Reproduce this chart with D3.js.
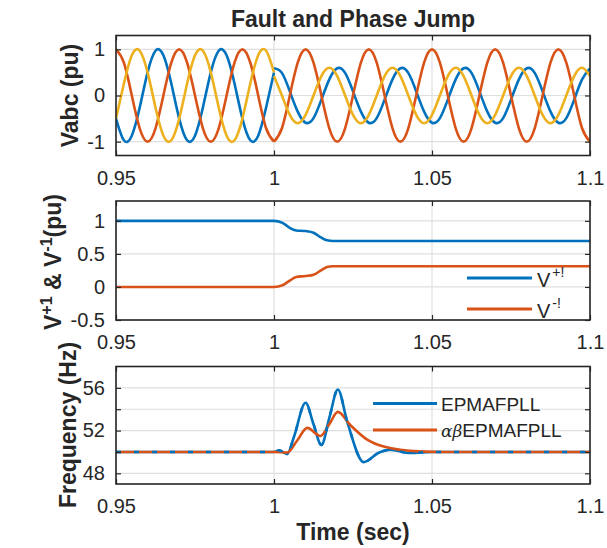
<!DOCTYPE html>
<html>
<head>
<meta charset="utf-8">
<script src="https://cdn.jsdelivr.net/npm/d3@7"></script>
<style>
body { margin: 0; background: #fff; }
text { font-family: Arial, "Liberation Sans", Helvetica, sans-serif; fill: #262626; }
</style>
</head>
<body>
<div id="chart"></div>
<script>
// time samples (sec)
var tPre = [0.95,0.9525,0.955,0.9575,0.96,0.9625,0.965,0.9675,0.97,0.9725,0.975,0.9775,0.98,0.9825,0.985,0.9875,0.99,0.9925,0.995,0.9975,1.0];
var tPost = [1.0,1.0025,1.005,1.0075,1.01,1.0125,1.015,1.0175,1.02,1.0225,1.025,1.0275,1.03,1.0325,1.035,1.0375,1.04,1.0425,1.045,1.0475,
  1.05,1.0525,1.055,1.0575,1.06,1.0625,1.065,1.0675,1.07,1.0725,1.075,1.0775,1.08,1.0825,1.085,1.0875,1.09,1.0925,1.095,1.0975,1.1];

// phase voltages before the fault (pu)
var vaPre = [-0.5,-0.97,-0.87,-0.26,0.5,0.97,0.87,0.26,-0.5,-0.97,-0.87,-0.26,0.5,0.97,0.87,0.26,-0.5,-0.97,-0.87,-0.26,0.5];
var vbPre = [1,0.71,0,-0.71,-1,-0.71,0,0.71,1,0.71,0,-0.71,-1,-0.71,0,0.71,1,0.71,0,-0.71,-1];
var vcPre = [-0.5,0.26,0.87,0.97,0.5,-0.26,-0.87,-0.97,-0.5,0.26,0.87,0.97,0.5,-0.26,-0.87,-0.97,-0.5,0.26,0.87,0.97,0.5];

// phase voltages after the fault (pu)
var vaPost = [0.59,0.49,0.09,-0.35,-0.59,-0.49,-0.09,0.35,0.59,0.49,0.09,-0.35,-0.59,-0.49,-0.09,0.35,0.59,0.49,0.09,-0.35,
  -0.59,-0.49,-0.09,0.35,0.59,0.49,0.09,-0.35,-0.59,-0.49,-0.09,0.35,0.59,0.49,0.09,-0.35,-0.59,-0.49,-0.09,0.35,0.59];
var vbPost = [-1,-0.71,0,0.71,1,0.71,0,-0.71,-1,-0.71,0,0.71,1,0.71,0,-0.71,-1,-0.71,0,0.71,
  1,0.71,0,-0.71,-1,-0.71,0,0.71,1,0.71,0,-0.71,-1,-0.71,0,0.71,1,0.71,0,-0.71,-1];
var vcPost = [0.42,0,-0.42,-0.6,-0.42,0,0.42,0.6,0.42,0,-0.42,-0.6,-0.42,0,0.42,0.6,0.42,0,-0.42,-0.6,
  -0.42,0,0.42,0.6,0.42,0,-0.42,-0.6,-0.42,0,0.42,0.6,0.42,0,-0.42,-0.6,-0.42,0,0.42,0.6,0.42];

// positive / negative sequence magnitude
var tSeq = [0.95,1.0,1.0027,1.0051,1.007,1.01,1.0125,1.015,1.0168,1.0186,1.1];
var vPos = [1,1,0.97,0.89,0.855,0.845,0.82,0.745,0.705,0.695,0.695];
var vNeg = [0,0,0.025,0.1,0.15,0.165,0.185,0.255,0.3,0.312,0.312];

// estimated frequency (Hz)
var tFreq1 = [0.95,1.0,1.0016,1.0042,1.0063,1.01,1.0125,1.015,1.0176,1.0202,1.0232,1.0284,1.033,1.0368,1.0432,1.05,1.1];
var fEpma = [50,50,50.15,49.8,51.4,54.6,52.6,50.65,53.3,55.85,52.8,49.05,49.9,50.2,49.9,50,50];
var tFreq2 = [0.95,1.0,1.0042,1.0074,1.0105,1.0147,1.0175,1.0202,1.0242,1.0295,1.0347,1.04,1.046,1.055,1.1];
var fAbEpma = [50,50,49.95,51.1,52.25,51.5,52.6,53.75,52.5,51.15,50.5,50.2,50.05,50,50];

var xTicks = [0.95, 1, 1.05, 1.1];
var xTickLabels = ["0.95", "1", "1.05", "1.1"];

var blue = "#0072BD", orange = "#D95319", yellow = "#EDB120";

var svg = d3.select("#chart").append("svg")
  .attr("width", 607)
  .attr("height", 548);

var x = d3.scaleLinear().domain([0.95, 1.1]).range([116, 590]);

// one panel = grid, data clip, box, ticks
function makePanel(id, top, bottom, yDomain, yTicks, yTickText) {
  var y = d3.scaleLinear().domain(yDomain).range([bottom, top]);
  var g = svg.append("g");

  g.selectAll(".hgrid").data(yTicks).enter().append("line")
    .attr("x1", 116).attr("x2", 590)
    .attr("y1", d => y(d)).attr("y2", d => y(d))
    .attr("stroke", "#dfdfdf").attr("stroke-width", 1.2);
  g.selectAll(".vgrid").data(xTicks).enter().append("line")
    .attr("x1", d => x(d)).attr("x2", d => x(d))
    .attr("y1", top).attr("y2", bottom)
    .attr("stroke", "#dfdfdf").attr("stroke-width", 1.2);

  svg.append("clipPath").attr("id", id)
    .append("rect").attr("x", 116).attr("y", top).attr("width", 474).attr("height", bottom - top);

  var plot = svg.append("g").attr("clip-path", "url(#" + id + ")");
  var frame = svg.append("g");

  frame.append("g")
    .attr("transform", `translate(0,${bottom})`)
    .call(d3.axisBottom(x).tickValues(xTicks).tickFormat((d, i) => xTickLabels[i]).tickSize(-5).tickPadding(15));
  frame.append("g")
    .attr("transform", `translate(0,${top})`)
    .call(d3.axisTop(x).tickValues(xTicks).tickFormat("").tickSize(-5));
  frame.append("g")
    .attr("transform", "translate(116,0)")
    .call(d3.axisLeft(y).tickValues(yTicks).tickFormat((d, i) => yTickText[i]).tickSize(-5).tickPadding(11));
  frame.append("g")
    .attr("transform", "translate(590,0)")
    .call(d3.axisRight(y).tickValues(yTicks).tickFormat("").tickSize(-5));

  frame.selectAll(".domain").remove();
  frame.selectAll(".tick line").attr("stroke", "#262626").attr("stroke-width", 1.2);
  frame.selectAll(".tick text")
    .attr("font-size", 20)
    .attr("font-family", "Arial, 'Liberation Sans', sans-serif")
    .attr("fill", "#262626");

  frame.append("rect")
    .attr("x", 116).attr("y", top)
    .attr("width", 474).attr("height", bottom - top)
    .attr("fill", "none")
    .attr("stroke", "#262626")
    .attr("stroke-width", 1.6);

  return { y: y, plot: plot };
}

function drawLine(p, ts, vs, color, curve, dash) {
  var line = d3.line()
    .x((d, i) => x(ts[i]))
    .y(d => p.y(d))
    .curve(curve);
  p.plot.append("path")
    .datum(vs)
    .attr("d", line)
    .attr("fill", "none")
    .attr("stroke", color)
    .attr("stroke-width", 2.6)
    .attr("stroke-linejoin", "round")
    .attr("stroke-dasharray", dash || null);
}

// panel 1: Vabc
var p1 = makePanel("c1", 35.5, 155.5, [-1.3, 1.3], [-1, 0, 1], ["-1", "0", "1"]);
drawLine(p1, tPre, vaPre, blue, d3.curveNatural);
drawLine(p1, tPost, vaPost, blue, d3.curveNatural);
drawLine(p1, tPre, vbPre, orange, d3.curveNatural);
drawLine(p1, tPost, vbPost, orange, d3.curveNatural);
drawLine(p1, tPre, vcPre, yellow, d3.curveNatural);
drawLine(p1, tPost, vcPost, yellow, d3.curveNatural);

// panel 2: sequence components
var p2 = makePanel("c2", 201, 320, [-0.5, 1.3], [-0.5, 0, 0.5, 1], ["-0.5", "0", "0.5", "1"]);
drawLine(p2, tSeq, vPos, blue, d3.curveMonotoneX);
drawLine(p2, tSeq, vNeg, orange, d3.curveMonotoneX);

// panel 3: frequency (blue peeks through where the two overlap)
var p3 = makePanel("c3", 366.5, 484, [47, 58], [48, 50, 52, 54, 56], ["48", "", "52", "", "56"]);
drawLine(p3, tFreq1, fEpma, blue, d3.curveMonotoneX);
drawLine(p3, tFreq2, fAbEpma, orange, d3.curveMonotoneX);
drawLine(p3, tFreq1, fEpma, blue, d3.curveMonotoneX, "5,13");

// title and axis labels
svg.append("text")
  .attr("x", 353).attr("y", 27)
  .attr("text-anchor", "middle")
  .attr("font-size", 23).attr("font-weight", "bold")
  .text("Fault and Phase Jump");

svg.append("text")
  .attr("transform", "translate(78,95.5) rotate(-90)")
  .attr("text-anchor", "middle")
  .attr("font-size", 23).attr("font-weight", "bold")
  .text("Vabc (pu)");

var seqLabel = svg.append("text")
  .attr("transform", "translate(61,262) rotate(-90)")
  .attr("text-anchor", "middle")
  .attr("font-size", 23).attr("font-weight", "bold");
seqLabel.append("tspan").text("V");
seqLabel.append("tspan").attr("font-size", 16).attr("dy", -9).text("+1");
seqLabel.append("tspan").attr("dy", 9).text("  & V");
seqLabel.append("tspan").attr("font-size", 16).attr("dy", -9).text("-1");
seqLabel.append("tspan").attr("dy", 9).text("(pu)");

svg.append("text")
  .attr("transform", "translate(76,425) rotate(-90)")
  .attr("text-anchor", "middle")
  .attr("font-size", 23).attr("font-weight", "bold")
  .text("Frequency (Hz)");

svg.append("text")
  .attr("x", 353).attr("y", 540)
  .attr("text-anchor", "middle")
  .attr("font-size", 23).attr("font-weight", "bold")
  .text("Time (sec)");

// legend, middle panel
function legendLine(x1, x2, yy, color) {
  svg.append("line")
    .attr("x1", x1).attr("x2", x2).attr("y1", yy).attr("y2", yy)
    .attr("stroke", color).attr("stroke-width", 3.2);
}
legendLine(467, 532, 278, blue);
legendLine(467, 532, 309, orange);
var lg1 = svg.append("text").attr("x", 537).attr("y", 287).attr("font-size", 20);
lg1.append("tspan").text("V");
lg1.append("tspan").attr("font-size", 14).attr("dy", -10).attr("dx", 2).text("+!");
var lg2 = svg.append("text").attr("x", 537).attr("y", 318).attr("font-size", 20);
lg2.append("tspan").text("V");
lg2.append("tspan").attr("font-size", 14).attr("dy", -10).attr("dx", 2).text("-!");

// legend, bottom panel
legendLine(373, 437, 403.5, blue);
legendLine(373, 437, 430, orange);
svg.append("text").attr("x", 441).attr("y", 410.5).attr("font-size", 19).text("EPMAFPLL");
var lg4 = svg.append("text").attr("x", 441).attr("y", 437).attr("font-size", 19);
lg4.append("tspan").attr("font-style", "italic").attr("font-family", "'DejaVu Serif', serif").attr("font-size", 17).text("αβ");
lg4.append("tspan").text("EPMAFPLL");
</script>
</body>
</html>
